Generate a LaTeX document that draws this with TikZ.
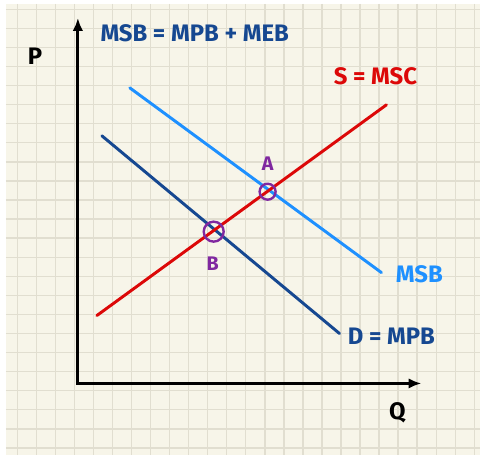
\documentclass[tikz,border=0pt]{standalone}
\usepackage{fontspec}
\setmainfont{Fira Sans}
\usetikzlibrary{arrows.meta}

\definecolor{paper}{RGB}{247,245,233}
\definecolor{gridline}{RGB}{225,222,208}
\definecolor{msbblue}{RGB}{30,144,255}
\definecolor{mpbblue}{RGB}{22,72,145}
\definecolor{mscred}{RGB}{220,8,8}
\definecolor{eqpurple}{RGB}{128,40,160}

\begin{document}
\begin{tikzpicture}[
  x=0.025cm, y=-0.025cm,
  font=\bfseries,
  axis/.style={line width=2.2pt, {Latex[length=3.2mm,width=2.6mm]}-{Latex[length=3.2mm,width=2.6mm]}},
  curve/.style={line width=2.1pt, line cap=round},
  ring/.style={circle, draw=eqpurple, line width=1.7pt, inner sep=0pt},
  lbl/.style={inner sep=0pt, font=\fontsize{17}{20}\selectfont\bfseries}
]
% paper and grid
\fill[white] (0,0) rectangle (481,456);
\fill[paper] (6,4) rectangle (481,456);
\foreach \i in {0,...,24}
  \draw[gridline, line width=1pt] ({17.3+19.07*\i},4) -- ({17.3+19.07*\i},456);
\foreach \j in {0,...,23}
  \draw[gridline, line width=1pt] (6,{9.3+19.1*\j}) -- (481,{9.3+19.1*\j});

% axes
\coordinate (origin) at (78,384);
\coordinate (ytop) at (78,18);
\coordinate (xend) at (422,384);
\draw[axis] (ytop) -- (origin) -- (xend);
\node[lbl] (plabel) at (35,56) {P};
\node[lbl] (qlabel) at (398,413) {Q};

% curves
\coordinate (msbstart) at (130,88);
\coordinate (msbend) at (382,273);
\coordinate (mpbstart) at (102,136);
\coordinate (mpbend) at (340,334);
\coordinate (mscstart) at (97,316);
\coordinate (mscend) at (387,105);
\draw[curve, msbblue] (msbstart) -- (msbend);
\draw[curve, mpbblue] (mpbstart) -- (mpbend);
\draw[curve, mscred] (mscstart) -- (mscend);

% labels
\node[lbl, text=mpbblue] (title) at (195,33) {MSB = MPB + MEB};
\node[lbl, text=mscred] (msclabel) at (376,76) {S = MSC};
\node[lbl, text=msbblue] (msblabel) at (420,275) {MSB};
\node[lbl, text=mpbblue] (mpblabel) at (392,337) {D = MPB};

% equilibria
\node[ring, minimum size=0.4cm] (ptA) at (268,192) {};
\node[ring, minimum size=0.5cm] (ptB) at (214,232) {};
\node[lbl, text=eqpurple, font=\fontsize{14}{16}\selectfont\bfseries] (alabel) at (268,164) {A};
\node[lbl, text=eqpurple, font=\fontsize{14}{16}\selectfont\bfseries] (blabel) at (213,264) {B};
\end{tikzpicture}
\end{document}
